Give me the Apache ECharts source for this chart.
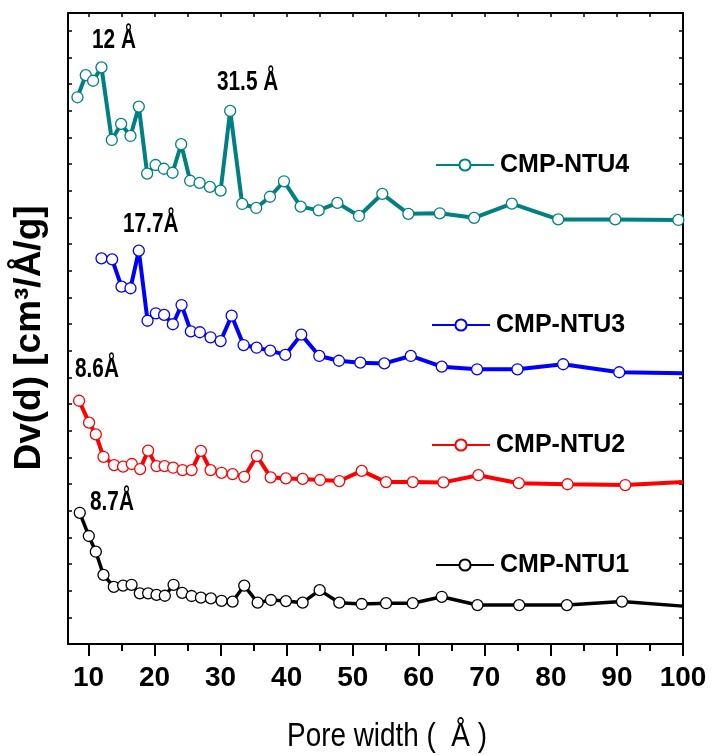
<!DOCTYPE html>
<html>
<head>
<meta charset="utf-8">
<script src="https://cdn.jsdelivr.net/npm/echarts@6/dist/echarts.min.js"></script>
<style>
  html, body { margin: 0; padding: 0; background: #fff; }
  #chart { width: 713px; height: 755px; }
</style>
</head>
<body>
<div id="chart"></div>
<script>
// Pore size distributions (y in arbitrary stacked units)
const ntu4X = [8.33, 9.59, 10.70, 11.97, 13.53, 14.94, 16.36, 17.62, 18.88, 20.15, 21.41, 22.73, 24.03, 25.39, 26.82, 28.38, 30.0, 31.45, 33.27, 35.39, 37.47, 39.59, 42.12, 44.85, 47.67, 50.95, 54.48, 58.42, 63.18, 68.38, 74.09, 81.11, 89.74, 99.3];
const ntu4Y = [20.50, 21.33, 21.12, 21.62, 18.90, 19.50, 19.05, 20.15, 17.64, 17.96, 17.82, 17.67, 18.74, 17.37, 17.29, 17.14, 17.0, 19.99, 16.50, 16.35, 16.77, 17.35, 16.40, 16.26, 16.54, 16.05, 16.88, 16.13, 16.15, 15.98, 16.51, 15.92, 15.92, 15.90];

const ntu3X = [11.97, 13.58, 15.0, 16.36, 17.62, 18.94, 20.20, 21.45, 22.77, 24.09, 25.5, 26.86, 28.48, 30.0, 31.67, 33.48, 35.45, 37.52, 39.79, 42.21, 44.94, 47.92, 51.15, 54.79, 58.79, 63.48, 68.83, 74.94, 81.86, 90.35, 100];
const ntu3Y = [14.46, 14.42, 13.40, 13.34, 14.75, 12.12, 12.40, 12.34, 11.99, 12.71, 11.72, 11.69, 11.50, 11.36, 12.31, 11.21, 11.11, 11.0, 10.84, 11.60, 10.80, 10.62, 10.55, 10.52, 10.80, 10.40, 10.30, 10.30, 10.49, 10.19, 10.15];

const ntu2X = [8.58, 10.09, 11.11, 12.27, 13.88, 15.24, 16.56, 17.82, 19.03, 20.30, 21.52, 22.82, 24.24, 25.61, 27.02, 28.48, 30.15, 31.82, 33.58, 35.5, 37.58, 39.89, 42.42, 45.05, 47.97, 51.36, 55.05, 59.09, 63.73, 69.03, 75.15, 82.52, 91.26, 100];
const ntu2Y = [9.12, 8.30, 7.86, 7.02, 6.71, 6.65, 6.75, 6.56, 7.25, 6.67, 6.67, 6.61, 6.52, 6.52, 7.24, 6.52, 6.42, 6.37, 6.27, 7.05, 6.25, 6.21, 6.19, 6.15, 6.11, 6.49, 6.07, 6.07, 6.06, 6.33, 6.03, 5.99, 5.96, 6.07];

const ntu1X = [8.68, 10.05, 11.11, 12.27, 13.83, 15.24, 16.52, 17.77, 19.03, 20.30, 21.56, 22.88, 24.18, 25.61, 27.02, 28.53, 30.15, 31.82, 33.58, 35.61, 37.62, 39.89, 42.42, 45.0, 47.97, 51.36, 55.05, 59.09, 63.48, 68.88, 75.20, 82.42, 90.76, 100];
const ntu1Y = [4.92, 4.05, 3.46, 2.59, 2.14, 2.19, 2.22, 1.90, 1.90, 1.84, 1.81, 2.22, 1.92, 1.80, 1.74, 1.71, 1.62, 1.59, 2.19, 1.55, 1.65, 1.61, 1.55, 2.02, 1.55, 1.50, 1.53, 1.53, 1.77, 1.46, 1.46, 1.46, 1.59, 1.42];

const majorTicks = [10, 20, 30, 40, 50, 60, 70, 80, 90, 100];
const minorTicks = [15, 25, 35, 45, 55, 65, 75, 85, 95];
const topTicks = [10, 15, 20, 25, 30, 35, 40, 45, 50, 55, 60, 65, 70, 75, 80, 85, 90, 95, 100];

// no narrow face is installed, so condensed text is squeezed with scaleX
const SANS = '"Liberation Sans", Arial, sans-serif';

function pts(xs, ys, lastPlain) {
  return xs.map((x, i) => {
    if (lastPlain && i === xs.length - 1) return { value: [x, ys[i]], symbol: 'none' };
    return [x, ys[i]];
  });
}

function mkSeries(name, color, xs, ys, lastPlain, width) {
  return {
    name: name, type: 'line', data: pts(xs, ys, lastPlain),
    symbol: 'circle', symbolSize: 11, showAllSymbol: true,
    lineStyle: { color: color, width: width || 4 },
    itemStyle: { color: '#fff', borderColor: color, borderWidth: 1.3 },
    z: 3
  };
}

function mkLegend(name, left, cy) {
  return {
    data: [name], left: left, top: cy - 15, padding: 0,
    itemWidth: 58, itemHeight: 14, itemGap: 0,
    textStyle: { fontFamily: SANS, fontWeight: 'bold', fontSize: 25, color: '#000', lineHeight: 30, padding: [0, 0, 0, 1] }
  };
}

function note(text, x, y) {
  return { type: 'text', x: x, y: y, scaleX: 0.77, style: { text: text, font: 'bold 27px ' + SANS, fill: '#000', align: 'left', verticalAlign: 'top' } };
}

const chart = echarts.init(document.getElementById('chart'));

const hidden = { show: false };
chart.setOption({
  backgroundColor: '#fff',
  animation: false,
  grid: { left: 68, right: 30, top: 13, bottom: 111 },
  legend: [
    mkLegend('CMP-NTU4', 435, 165),
    mkLegend('CMP-NTU3', 431, 325),
    mkLegend('CMP-NTU2', 431, 445),
    mkLegend('CMP-NTU1', 435, 565)
  ],
  xAxis: [
    {
      type: 'value', min: 6.9, max: 100, position: 'bottom',
      axisLine: { lineStyle: { color: '#000', width: 2 } },
      axisTick: { customValues: majorTicks, length: 12, lineStyle: { color: '#000', width: 2 } },
      axisLabel: { customValues: majorTicks, margin: 20, color: '#000', fontFamily: SANS, fontWeight: 'bold', fontSize: 28 },
      splitLine: hidden
    },
    {
      type: 'value', min: 6.9, max: 100, position: 'bottom',
      axisLine: hidden,
      axisTick: { customValues: minorTicks, length: 7, lineStyle: { color: '#000', width: 2 } },
      axisLabel: hidden, splitLine: hidden
    },
    {
      type: 'value', min: 6.9, max: 100, position: 'top',
      axisLine: { lineStyle: { color: '#000', width: 2 } },
      axisTick: { customValues: topTicks, inside: true, length: 4, lineStyle: { color: '#000', width: 1.5 } },
      axisLabel: hidden, splitLine: hidden
    }
  ],
  yAxis: [
    {
      type: 'value', min: 0, max: 23.66, interval: 1, position: 'left',
      axisLine: { show: true, lineStyle: { color: '#000', width: 2 } },
      axisTick: { show: true, inside: true, length: 4, lineStyle: { color: '#000', width: 1.5 } },
      axisLabel: hidden, splitLine: hidden
    },
    {
      type: 'value', min: 0, max: 23.66, interval: 1, position: 'right',
      axisLine: { show: true, lineStyle: { color: '#000', width: 2 } },
      axisTick: { show: true, inside: true, length: 4, lineStyle: { color: '#000', width: 1.5 } },
      axisLabel: hidden, splitLine: hidden
    }
  ],
  series: [
    mkSeries('CMP-NTU4', '#008080', ntu4X, ntu4Y, false),
    mkSeries('CMP-NTU3', '#0000ff', ntu3X, ntu3Y, true),
    mkSeries('CMP-NTU2', '#ff0000', ntu2X, ntu2Y, true),
    mkSeries('CMP-NTU1', '#000000', ntu1X, ntu1Y, true, 3.5)
  ],
  graphic: [
    note('12 Å', 92, 27),
    note('31.5 Å', 217, 69),
    note('17.7Å', 123, 211),
    note('8.6Å', 75, 356),
    note('8.7Å', 90, 489),
    {
      type: 'text', x: 30, y: 338, rotation: Math.PI / 2,
      style: { text: 'Dv(d) [cm³/Å/g]', font: 'bold 37px ' + SANS, fill: '#000', align: 'center', verticalAlign: 'middle' }
    },
    {
      type: 'text', x: 387, y: 737, scaleX: 0.82,
      style: { text: 'Pore width (  Å )', font: '34px ' + SANS, fill: '#000', align: 'center', verticalAlign: 'middle' }
    }
  ]
});
</script>
</body>
</html>
